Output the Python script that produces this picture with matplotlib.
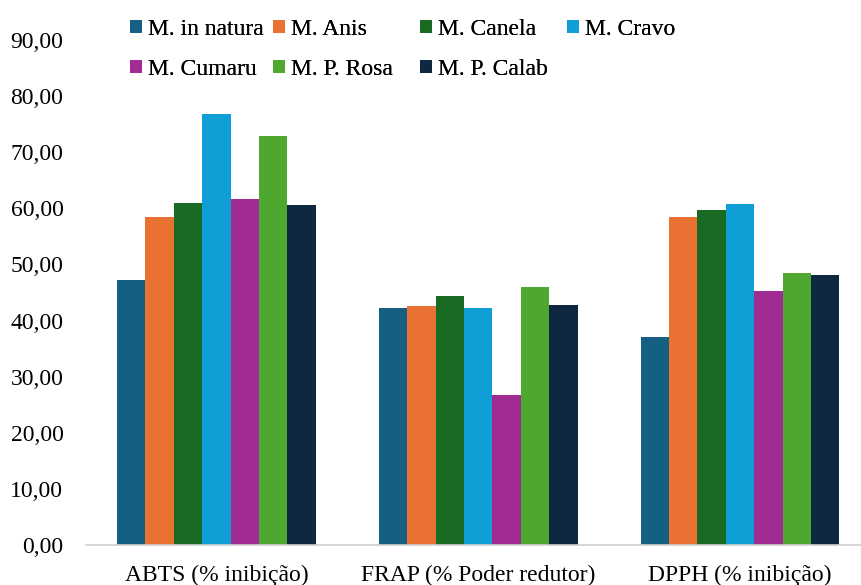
import matplotlib
matplotlib.use("Agg")
import matplotlib.pyplot as plt
import numpy as np

categories = ["ABTS (% inibição)", "FRAP (% Poder redutor)", "DPPH (% inibição)"]
series_names = ["M. in natura", "M. Anis", "M. Canela", "M. Cravo", "M. Cumaru", "M. P. Rosa", "M. P. Calab"]
in_natura = [47.2, 42.2, 37.0]
anis = [58.4, 42.6, 58.4]
canela = [60.9, 44.3, 59.7]
cravo = [76.8, 42.2, 60.7]
cumaru = [61.7, 26.7, 45.2]
p_rosa = [72.9, 46.0, 48.4]
p_calab = [60.6, 42.8, 48.1]
series_values = [in_natura, anis, canela, cravo, cumaru, p_rosa, p_calab]
yticks = [0, 10, 20, 30, 40, 50, 60, 70, 80, 90]
ytick_labels = ["0,00", "10,00", "20,00", "30,00", "40,00", "50,00", "60,00", "70,00", "80,00", "90,00"]
colors = ["#156082", "#E97132", "#196B24", "#0F9ED5", "#A02B93", "#4EA72E", "#0E2841"]

plt.rcParams['font.family'] = ['Liberation Serif', 'DejaVu Serif']
FS = 17

W, H = 861, 585
fig = plt.figure(figsize=(W / 100, H / 100), dpi=100)
left_px, right_px = 85.6, 861
top_px, bottom_px = 40, 545
ax = fig.add_axes([left_px / W, 1 - bottom_px / H, (right_px - left_px) / W, (bottom_px - top_px) / H])

x = np.arange(len(categories))
n = len(series_names)
bw = 0.1085
handles = []
for i, (name, vals) in enumerate(zip(series_names, series_values)):
    offs = (i - (n - 1) / 2) * bw
    b = ax.bar(x + offs, vals, width=bw, color=colors[i], label=name, linewidth=0)
    handles.append(b)

ax.set_xlim(-0.5, 2 + (right_px - 740) / 261.75)
ax.set_ylim(0, 90)
ax.set_yticks(yticks)
ax.set_yticklabels(ytick_labels, fontsize=FS)
ax.set_xticks(x)
ax.set_xticklabels(categories, fontsize=FS)
ax.tick_params(axis='both', length=0)
ax.tick_params(axis='y', pad=16)
ax.tick_params(axis='x', pad=14)
for s in ['top', 'right', 'left']:
    ax.spines[s].set_visible(False)
ax.spines['bottom'].set_color('#D0D0D0')
ax.spines['bottom'].set_linewidth(1.2)

# legend: rows laid out like the reference, one legend per column
columns = [[0, 4], [1, 5], [2, 6], [3]]
col_x = [130, 273, 420, 567]
for cols, cx in zip(columns, col_x):
    lg = fig.legend([handles[k] for k in cols], [series_names[k] for k in cols],
                    loc='upper left', bbox_to_anchor=(cx / W, 1 - 19 / H),
                    frameon=False, fontsize=FS, handlelength=0.5, handleheight=0.5,
                    handletextpad=0.25, labelspacing=0.8, borderaxespad=0, borderpad=0)
    fig.add_artist(lg)

fig.savefig("out.png", dpi=100)
